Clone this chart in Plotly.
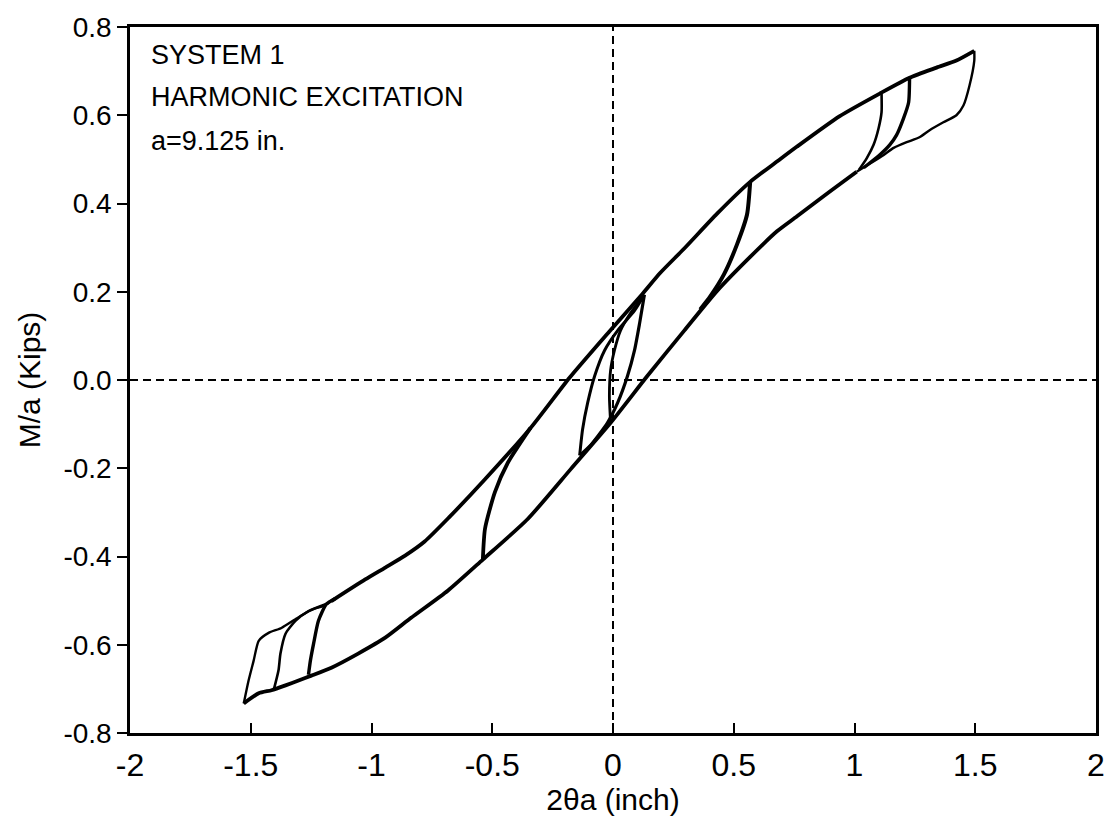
import plotly.graph_objects as go

# ---- data (2θa in inch, M/a in kips) ----
upper_env_x = [-1.166, -1.026, -0.943, -0.861, -0.78, -0.68, -0.53, -0.34, -0.18,
               -0.015, 0.12, 0.196, 0.295, 0.431, 0.568, 0.679, 0.762, 0.939, 1.104, 1.228,
               1.34, 1.422, 1.496]
upper_env_y = [-0.501, -0.452, -0.425, -0.398, -0.366, -0.312, -0.225, -0.108, 0.005,
               0.11, 0.194, 0.243, 0.298, 0.377, 0.449, 0.495, 0.529, 0.598, 0.649, 0.685,
               0.708, 0.724, 0.746]

lower_env_x = [-1.529, -1.467, -1.414, -1.356, -1.302, -1.249, -1.166, -1.055, -0.943, -0.836,
               -0.683, -0.539, -0.353, -0.175, -0.010, 0.142, 0.295, 0.431, 0.568, 0.679,
               0.762, 0.898, 1.009]
lower_env_y = [-0.733, -0.710, -0.703, -0.692, -0.681, -0.670, -0.652, -0.620, -0.584, -0.539,
               -0.477, -0.407, -0.315, -0.202, -0.097, 0.009, 0.112, 0.202, 0.279, 0.337,
               0.371, 0.427, 0.472]

big_unload_x = [1.496, 1.496, 1.476, 1.451, 1.422, 1.368, 1.311, 1.269, 1.216, 1.162, 1.121, 1.063, 1.009]
big_unload_y = [0.746, 0.724, 0.667, 0.622, 0.600, 0.584, 0.566, 0.550, 0.539, 0.526, 0.510, 0.490, 0.472]

big_load_x = [-1.529, -1.509, -1.488, -1.467, -1.426, -1.373, -1.315, -1.273, -1.240, -1.199, -1.166]
big_load_y = [-0.733, -0.681, -0.636, -0.591, -0.573, -0.562, -0.542, -0.528, -0.519, -0.512, -0.501]

loopA_unload_x = [1.112, 1.112, 1.100, 1.079, 1.051, 1.018]
loopA_unload_y = [0.649, 0.607, 0.571, 0.533, 0.503, 0.476]
loopB_unload_x = [1.228, 1.224, 1.203, 1.174, 1.146, 1.104, 1.038]
loopB_unload_y = [0.685, 0.629, 0.593, 0.555, 0.533, 0.510, 0.481]

loopC_load_x = [-1.405, -1.385, -1.377, -1.356, -1.315, -1.261, -1.179]
loopC_load_y = [-0.703, -0.658, -0.620, -0.575, -0.546, -0.524, -0.506]
loopD_load_x = [-1.261, -1.253, -1.240, -1.220, -1.187, -1.150]
loopD_load_y = [-0.668, -0.636, -0.598, -0.546, -0.508, -0.495]

med_load_x = [-0.539, -0.530, -0.489, -0.435, -0.341]
med_load_y = [-0.407, -0.337, -0.254, -0.187, -0.108]
med_unload_x = [0.568, 0.555, 0.514, 0.460, 0.402, 0.361]
med_unload_y = [0.449, 0.375, 0.308, 0.240, 0.189, 0.160]

small_unload_x = [0.130, 0.089, 0.019, -0.035, -0.076, -0.105, -0.126, -0.138]
small_unload_y = [0.193, 0.157, 0.112, 0.067, 0.009, -0.052, -0.112, -0.171]
small_load_x = [-0.138, -0.093, -0.023, 0.019, 0.060, 0.089, 0.110, 0.130]
small_load_y = [-0.171, -0.148, -0.097, -0.052, 0.009, 0.067, 0.128, 0.193]
small2_unload_x = [0.125, 0.072, 0.031, 0.006, -0.010, -0.015, -0.010]
small2_unload_y = [0.190, 0.151, 0.112, 0.067, 0.022, -0.036, -0.097]

x_tickvals = [-2, -1.5, -1, -0.5, 0, 0.5, 1, 1.5, 2]
x_ticktext = ["-2", "-1.5", "-1", "-0.5", "0", "0.5", "1", "1.5", "2"]
y_tickvals = [0.8, 0.6, 0.4, 0.2, 0.0, -0.2, -0.4, -0.6, -0.8]
y_ticktext = ["0.8", "0.6", "0.4", "0.2", "0.0", "-0.2", "-0.4", "-0.6", "-0.8"]

notes = ["SYSTEM 1", "HARMONIC EXCITATION", "a=9.125 in."]

# ---- figure ----
FONT = "Liberation Sans, Arial, sans-serif"
fig = go.Figure()

curves = [
    (upper_env_x, upper_env_y, 3.8),
    (lower_env_x, lower_env_y, 3.8),
    (big_unload_x, big_unload_y, 2.4),
    (big_load_x, big_load_y, 2.4),
    (loopA_unload_x, loopA_unload_y, 2.6),
    (loopB_unload_x, loopB_unload_y, 3.4),
    (loopC_load_x, loopC_load_y, 2.6),
    (loopD_load_x, loopD_load_y, 3.4),
    (med_load_x, med_load_y, 3.8),
    (med_unload_x, med_unload_y, 4.0),
    (small_unload_x, small_unload_y, 3.0),
    (small_load_x, small_load_y, 3.2),
    (small2_unload_x, small2_unload_y, 2.8),
]
for cx, cy, w in curves:
    fig.add_trace(go.Scatter(x=cx, y=cy, mode="lines",
                             line=dict(color="black", width=w, shape="spline", smoothing=0.6),
                             showlegend=False, hoverinfo="skip"))

# dashed zero lines
fig.add_shape(type="line", xref="x", yref="y", x0=-2, x1=2, y0=0, y1=0,
              line=dict(color="black", width=2, dash="8px,5px"))
fig.add_shape(type="line", xref="x", yref="y", x0=0, x1=0, y0=-0.8, y1=0.8,
              line=dict(color="black", width=2, dash="8px,5px"))

note_y = [0.961, 0.901, 0.838]
for txt, yy in zip(notes, note_y):
    fig.add_annotation(text=txt, xref="paper", yref="paper", x=0.02, y=yy,
                       xanchor="left", yanchor="middle", showarrow=False,
                       font=dict(family=FONT, size=27, color="black"))

fig.update_layout(
    width=1117, height=825,
    margin=dict(l=130, r=17, t=21, b=92),
    paper_bgcolor="white", plot_bgcolor="white",
    font=dict(family=FONT, size=28, color="black"),
    xaxis=dict(range=[-2, 2], tickvals=x_tickvals, ticktext=x_ticktext,
               ticks="inside", ticklen=10, tickwidth=1.5, tickcolor="black",
               tickfont=dict(size=32),
               showline=True, linecolor="black", linewidth=2.5, mirror=True,
               showgrid=False, zeroline=False, ticklabelstandoff=2,
               title=dict(text="2θa (inch)", font=dict(size=30), standoff=4)),
    yaxis=dict(range=[-0.8, 0.8], tickvals=y_tickvals, ticktext=y_ticktext,
               ticks="outside", ticklen=10, tickwidth=1.5, tickcolor="black",
               tickfont=dict(size=28),
               showline=True, linecolor="black", linewidth=2.5, mirror=True,
               showgrid=False, zeroline=False,
               title=dict(text="M/a (Kips)", font=dict(size=30), standoff=14)),
)

fig.write_html("out.html")
